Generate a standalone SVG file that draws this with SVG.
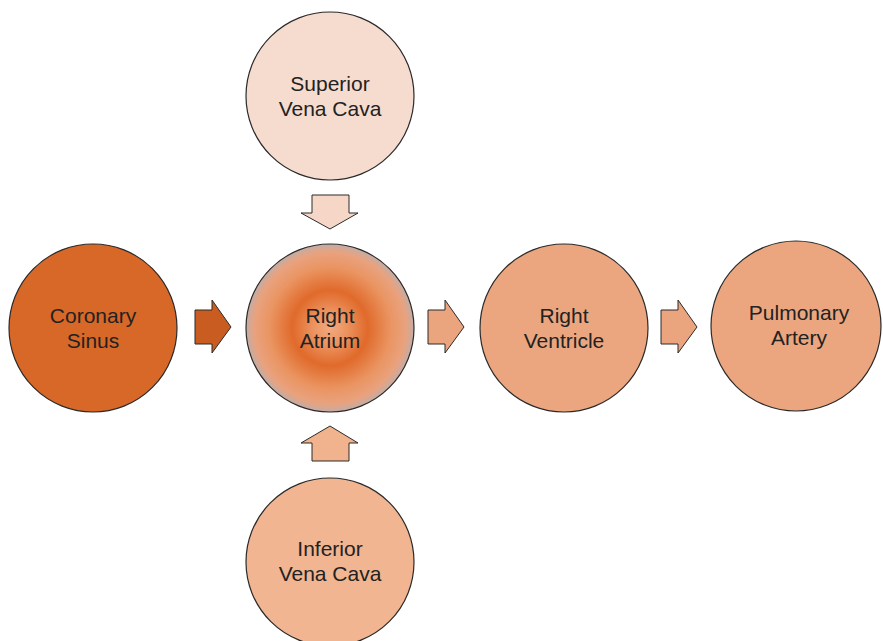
<svg xmlns="http://www.w3.org/2000/svg" width="883" height="641" viewBox="0 0 883 641">
  <style>
    .node { stroke: #2a2a2a; stroke-width: 1.2; }
    .lbl { font-family: "Liberation Sans", Arial, sans-serif; font-size: 21px; fill: #222; text-anchor: middle; }
    .arrow { stroke: #2a2a2a; stroke-width: 1; stroke-linejoin: miter; }
  </style>
  <defs>
    <radialGradient id="atriumFill" cx="0.5" cy="0.5" r="0.5">
      <stop offset="0" stop-color="#F2AA80"/>
      <stop offset="0.2" stop-color="#EC9360"/>
      <stop offset="0.45" stop-color="#E06A2B"/>
      <stop offset="0.72" stop-color="#EA9461"/>
      <stop offset="0.9" stop-color="#E9A27E"/>
      <stop offset="1" stop-color="#C4ACA4"/>
    </radialGradient>
  </defs>

  <rect width="883" height="641" fill="#ffffff"/>

  <g id="connectors">
    <!-- superior vena cava into atrium -->
    <polygon class="arrow" fill="#F6D7C7" points="312,195 349,195 349,213 358,213 330,229 301,213 312,213"/>
    <!-- inferior vena cava into atrium -->
    <polygon class="arrow" fill="#F0B38D" points="312,461 349,461 349,443 358,443 330,426 301,443 312,443"/>
    <!-- coronary sinus into atrium -->
    <polygon class="arrow" fill="#C95C21" points="195,310 212,310 212,300 231,327 212,353 212,344 195,344"/>
    <!-- atrium to ventricle -->
    <polygon class="arrow" fill="#EBA57E" points="428,310 445,310 445,300 464,327 445,353 445,344 428,344"/>
    <!-- ventricle to pulmonary artery -->
    <polygon class="arrow" fill="#EBA57E" points="661,310 678,310 678,300 697,327 678,353 678,344 661,344"/>
  </g>

  <g id="superior-vena-cava">
    <circle class="node" cx="330" cy="96" r="84" fill="#F6DCCE"/>
    <text class="lbl" x="330" y="91">Superior</text>
    <text class="lbl" x="330" y="116">Vena Cava</text>
  </g>

  <g id="right-atrium">
    <circle class="node" cx="330" cy="328" r="84" fill="url(#atriumFill)"/>
    <text class="lbl" x="330" y="323">Right</text>
    <text class="lbl" x="330" y="348">Atrium</text>
  </g>

  <g id="coronary-sinus">
    <circle class="node" cx="93" cy="328" r="84" fill="#D86827"/>
    <text class="lbl" x="93" y="323">Coronary</text>
    <text class="lbl" x="93" y="348">Sinus</text>
  </g>

  <g id="right-ventricle">
    <circle class="node" cx="564" cy="328" r="84" fill="#EBA67F"/>
    <text class="lbl" x="564" y="323">Right</text>
    <text class="lbl" x="564" y="348">Ventricle</text>
  </g>

  <g id="pulmonary-artery">
    <circle class="node" cx="796" cy="326" r="85" fill="#EBA67F"/>
    <text class="lbl" x="799" y="320">Pulmonary</text>
    <text class="lbl" x="799" y="345">Artery</text>
  </g>

  <g id="inferior-vena-cava">
    <circle class="node" cx="330" cy="562" r="84" fill="#F1B591"/>
    <text class="lbl" x="330" y="556">Inferior</text>
    <text class="lbl" x="330" y="581">Vena Cava</text>
  </g>
</svg>
